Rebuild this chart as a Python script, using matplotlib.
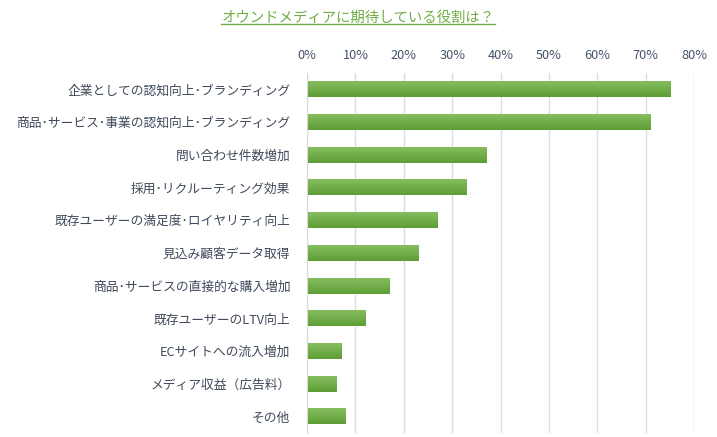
import matplotlib
matplotlib.use("Agg")
import matplotlib.pyplot as plt
import numpy as np
from matplotlib.lines import Line2D
from matplotlib.ticker import PercentFormatter

plt.rcParams['font.family'] = ['Noto Sans CJK JP', 'DejaVu Sans']

title = "オウンドメディアに期待している役割は？"
labels = [
    "企業としての認知向上･ブランディング",
    "商品･サービス･事業の認知向上･ブランディング",
    "問い合わせ件数増加",
    "採用･リクルーティング効果",
    "既存ユーザーの満足度･ロイヤリティ向上",
    "見込み顧客データ取得",
    "商品･サービスの直接的な購入増加",
    "既存ユーザーのLTV向上",
    "ECサイトへの流入増加",
    "メディア収益（広告料）",
    "その他",
]
values = [0.751, 0.710, 0.371, 0.330, 0.270, 0.230, 0.170, 0.121, 0.071, 0.061, 0.079]
xticks = np.arange(0, 0.81, 0.1)

fig = plt.figure(figsize=(7.17, 4.37), dpi=100)
ax = fig.add_axes([307 / 717, 4 / 437, 387 / 717, 360 / 437])

y = np.arange(len(labels))
bars = ax.barh(y, values, height=0.48, color="none", edgecolor="none", zorder=2)

# vertical gradient inside each bar
grad = np.linspace(0, 1, 64).reshape(-1, 1)
cmap = matplotlib.colors.LinearSegmentedColormap.from_list("g", ["#86BD5F", "#5E9E35"])
for b in bars:
    x0, y0 = b.get_x(), b.get_y()
    w, h = b.get_width(), b.get_height()
    ax.imshow(grad, cmap=cmap, aspect="auto", extent=(x0, x0 + w, y0 + h, y0),
              zorder=2, interpolation="bilinear")

ax.set_xlim(0, 0.8)
ax.set_ylim(len(labels) - 0.5, -0.5)
ax.set_xticks(xticks)
ax.xaxis.set_major_formatter(PercentFormatter(1.0, decimals=0))
ax.xaxis.tick_top()
ax.tick_params(axis="x", length=0, pad=8, labelsize=9.2, labelcolor="#44546A")
ax.set_yticks(y)
ax.set_yticklabels(labels)
ax.tick_params(axis="y", length=0, pad=12, labelsize=9.2, labelcolor="#404A5A")
ax.grid(axis="x", color="#D9DEE6", linewidth=1, zorder=0)
ax.set_axisbelow(True)
for s in ["top", "right", "bottom"]:
    ax.spines[s].set_visible(False)
ax.spines["left"].set_color("#D9D9D9")
ax.spines["left"].set_zorder(3)

t = fig.text(358 / 717, 1 - 18 / 437, title, ha="center", va="center",
             fontsize=10.4, color="#70AD47")
fig.canvas.draw()
bb = t.get_window_extent().transformed(fig.transFigure.inverted())
fig.add_artist(Line2D([bb.x0, bb.x1], [bb.y0 + 0.002, bb.y0 + 0.002],
                      transform=fig.transFigure, color="#70AD47", linewidth=1))

fig.savefig("out.png", dpi=100)
